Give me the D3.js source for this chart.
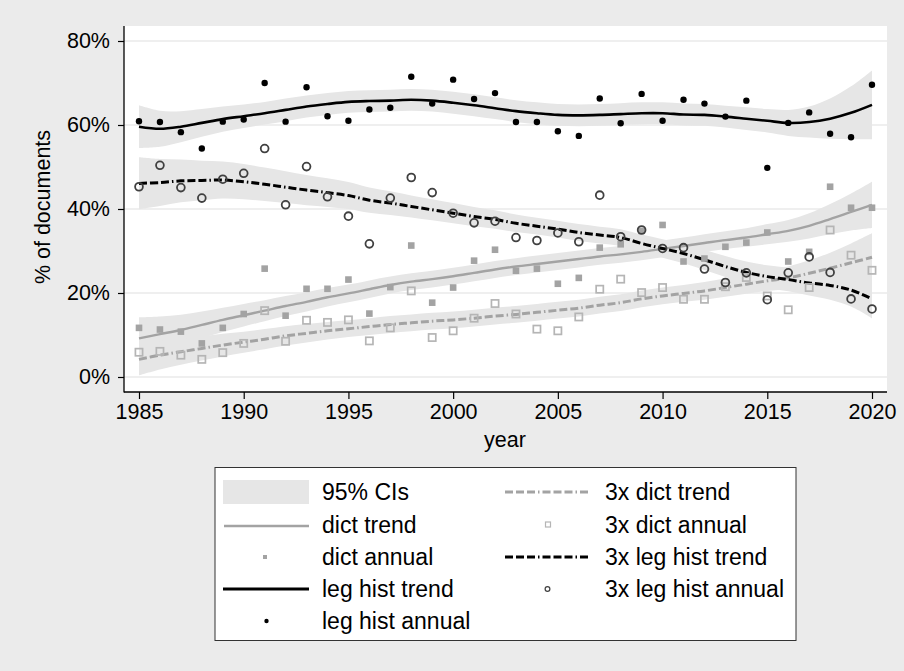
<!DOCTYPE html>
<html><head><meta charset="utf-8">
<script src="https://cdn.jsdelivr.net/npm/d3@7"></script>
<style>body{margin:0;background:#ebebeb}svg{display:block}text{font-family:"Liberation Sans",Arial,sans-serif;fill:#000}</style>
</head><body><svg id="c" width="904" height="671"></svg>
<script>
const years = [1985,1986,1987,1988,1989,1990,1991,1992,1993,1994,1995,1996,1997,1998,1999,2000,2001,2002,2003,2004,2005,2006,2007,2008,2009,2010,2011,2012,2013,2014,2015,2016,2017,2018,2019,2020];
const xTicks = [1985,1990,1995,2000,2005,2010,2015,2020];
const yTicks = [0,20,40,60,80];

const legHistAnnual = [60.9,60.7,58.3,54.4,60.8,61.3,70.0,60.8,69.0,62.1,61.0,63.7,64.1,71.5,65.1,70.8,66.2,67.6,60.7,60.7,58.5,57.4,66.3,60.4,67.4,61.0,66.0,65.1,62.0,65.8,49.8,60.5,63.0,57.9,57.1,69.6];
const legHistTrend  = [59.6,59.1,59.6,60.5,61.4,62.1,62.8,63.6,64.4,65.0,65.5,65.7,65.8,66.0,65.8,65.3,64.7,64.0,63.3,62.8,62.4,62.3,62.4,62.6,62.8,62.8,62.5,62.4,62.0,61.5,61.0,60.5,60.7,61.5,62.9,64.8];
const legHistCI     = [5.1,4.3,3.7,3.3,3.0,2.8,2.7,2.7,2.6,2.6,2.6,2.6,2.6,2.6,2.6,2.6,2.6,2.6,2.6,2.6,2.6,2.6,2.6,2.6,2.6,2.6,2.6,2.6,2.6,2.7,2.8,3.1,3.7,4.8,6.3,8.2];

const threeLegAnnual = [45.3,50.4,45.1,42.6,47.1,48.5,54.4,41.0,50.1,42.9,38.3,31.7,42.6,47.5,43.9,39.0,36.7,37.1,33.2,32.5,34.3,32.2,43.3,33.4,35.0,30.6,30.8,25.7,22.5,24.8,18.4,24.8,28.6,24.9,18.6,16.2];
const threeLegTrend  = [46.1,46.3,46.7,46.8,46.9,46.5,45.9,45.2,44.5,43.9,43.2,42.1,41.4,40.6,39.8,39.0,38.2,37.5,36.6,35.9,35.2,34.4,33.8,33.2,31.8,30.6,29.4,27.9,26.3,24.9,23.9,23.2,22.4,21.8,20.7,18.6];
const threeLegCI     = [6.2,5.6,5.1,4.7,4.4,4.2,4.0,3.8,3.6,3.4,3.2,3.0,2.8,2.6,2.5,2.4,2.3,2.2,2.1,2.0,2.0,2.0,2.0,2.0,2.1,2.2,2.3,2.4,2.5,2.6,2.7,2.8,3.0,3.4,3.9,4.6];

const dictAnnual = [11.7,11.3,10.8,8.0,11.7,15.0,25.8,14.6,21.0,21.0,23.2,15.1,21.4,31.3,17.7,21.3,27.7,30.3,25.3,25.8,22.2,23.6,30.8,31.6,34.8,36.2,27.5,28.2,31.0,32.0,34.4,27.5,29.8,45.3,40.3,40.3];
const dictTrend  = [9.2,10.2,11.2,12.4,13.6,14.7,15.8,16.9,17.9,19.0,19.9,20.9,21.9,22.7,23.3,24.0,24.8,25.6,26.3,26.9,27.5,28.1,28.7,29.2,29.8,30.5,31.2,31.9,32.6,33.2,34.0,34.8,36.0,37.6,39.3,41.0];
const dictCI     = [5.0,4.2,3.6,3.2,2.9,2.7,2.5,2.4,2.3,2.2,2.1,2.1,2.0,2.0,2.0,2.0,2.0,2.0,2.0,2.0,2.0,2.0,2.0,2.0,2.0,2.0,2.0,2.1,2.1,2.2,2.4,2.6,3.0,3.6,4.4,5.5];

const threeDictAnnual = [5.9,6.1,5.2,4.2,5.8,8.0,15.8,8.5,13.5,13.0,13.6,8.6,11.7,20.5,9.4,11.0,14.0,17.5,15.0,11.4,11.0,14.3,20.9,23.3,20.1,21.3,18.5,18.5,21.5,23.7,19.3,16.0,21.3,35.0,29.0,25.4];
const threeDictTrend  = [4.2,5.2,6.0,6.8,7.6,8.3,9.0,9.8,10.4,11.0,11.5,12.0,12.5,12.9,13.3,13.6,14.0,14.5,14.9,15.4,15.9,16.4,17.1,17.7,18.6,19.3,19.9,20.5,21.3,22.1,22.9,23.6,24.7,25.9,27.2,28.5];
const threeDictCI     = [3.8,3.4,3.1,2.9,2.7,2.5,2.4,2.3,2.2,2.1,2.0,2.0,2.0,2.0,2.0,2.0,2.0,2.0,2.0,2.0,2.0,2.0,2.0,2.0,2.0,2.0,2.0,2.1,2.2,2.3,2.4,2.7,3.1,3.7,4.6,5.7];

const legendLeft  = ["95% CIs","dict trend","dict annual","leg hist trend","leg hist annual"];
const legendRight = ["3x dict trend","3x dict annual","3x leg hist trend","3x leg hist annual"];

const W=904,H=671;
const svg=d3.select("#c");
const C={band:"#e6e6e6",grid:"#eaeaea",gray:"#a3a3a3",lgray:"#b5b5b5",dgray:"#404040"};
const dash="8,3,8,3,8,3,1.5,3";
svg.append("rect").attr("width",W).attr("height",H).attr("fill","#ebebeb");
const P={l:124,r:887,t:26,b:392};
svg.append("rect").attr("x",P.l).attr("y",P.t).attr("width",P.r-P.l).attr("height",P.b-P.t).attr("fill","#fff");

const x=d3.scaleLinear().domain([1985,2020]).range([139,872]);
const y=d3.scaleLinear().domain([0,80]).range([377,41]);

svg.append("g").selectAll("line").data(yTicks).join("line")
  .attr("x1",P.l).attr("x2",P.r).attr("y1",d=>y(d)).attr("y2",d=>y(d))
  .attr("stroke",C.grid).attr("stroke-width",1.5);

const curve=d3.curveCatmullRom.alpha(0.5);
function band(trend,ci){
  const a=d3.area().x((d,i)=>x(years[i])).y0((d,i)=>y(trend[i]-ci[i])).y1((d,i)=>y(trend[i]+ci[i])).curve(curve);
  svg.append("path").attr("d",a(trend)).attr("fill",C.band);
}
band(legHistTrend,legHistCI);
band(threeLegTrend,threeLegCI);
band(dictTrend,dictCI);
band(threeDictTrend,threeDictCI);

function line(vals,color,w,da){
  const l=d3.line().x((d,i)=>x(years[i])).y(d=>y(d)).curve(curve);
  const p=svg.append("path").attr("d",l(vals)).attr("fill","none").attr("stroke",color).attr("stroke-width",w);
  if(da)p.attr("stroke-dasharray",da);
}
line(dictTrend,C.gray,2.4);
line(threeDictTrend,C.gray,3,dash);
line(legHistTrend,"#000",2.6);
line(threeLegTrend,"#000",3,dash);

svg.append("g").selectAll("rect").data(dictAnnual).join("rect")
  .attr("x",(d,i)=>x(years[i])-3.3).attr("y",d=>y(d)-3.3).attr("width",6.6).attr("height",6.6).attr("fill",C.gray);
svg.append("g").selectAll("rect").data(threeDictAnnual).join("rect")
  .attr("x",(d,i)=>x(years[i])-3.6).attr("y",d=>y(d)-3.6).attr("width",7.2).attr("height",7.2)
  .attr("fill","none").attr("stroke",C.lgray).attr("stroke-width",1.7);
svg.append("g").selectAll("circle").data(threeLegAnnual).join("circle")
  .attr("cx",(d,i)=>x(years[i])).attr("cy",d=>y(d)).attr("r",3.9)
  .attr("fill","none").attr("stroke",C.dgray).attr("stroke-width",1.8);
svg.append("g").selectAll("circle").data(legHistAnnual).join("circle")
  .attr("cx",(d,i)=>x(years[i])).attr("cy",d=>y(d)).attr("r",3.2).attr("fill","#000");

const fs=21.5;
const ya=svg.append("g").attr("transform",`translate(${P.l},0)`)
  .call(d3.axisLeft(y).tickValues(yTicks).tickFormat(d=>d+"%").tickSize(6).tickPadding(8));
const xa=svg.append("g").attr("transform",`translate(0,${P.b})`)
  .call(d3.axisBottom(x).tickValues(xTicks).tickFormat(d3.format("d")).tickSize(7).tickPadding(5));
[ya,xa].forEach(g=>{g.select(".domain").remove();g.selectAll("line").attr("stroke","#000").attr("stroke-width",1.2);
  g.selectAll("text").attr("font-size",fs).attr("font-family","Liberation Sans, Arial, sans-serif").attr("fill","#000");});
svg.append("line").attr("x1",P.l).attr("x2",P.l).attr("y1",P.t).attr("y2",P.b+0.5).attr("stroke","#000").attr("stroke-width",1.3);
svg.append("line").attr("x1",P.l).attr("x2",P.r).attr("y1",P.b).attr("y2",P.b).attr("stroke","#000").attr("stroke-width",1.3);

svg.append("text").attr("x",505).attr("y",447).attr("text-anchor","middle").attr("font-size",fs).text("year");
svg.append("text").attr("transform","translate(50,207) rotate(-90)").attr("text-anchor","middle").attr("font-size",fs).text("% of documents");

const L=svg.append("g");
L.append("rect").attr("x",215).attr("y",467.5).attr("width",581).attr("height",173).attr("fill","#fff").attr("stroke","#333").attr("stroke-width",1);
const rows=[492,525,557,589,621];
const lfs=23;
legendLeft.forEach((t,i)=>L.append("text").attr("x",322).attr("y",rows[i]).attr("dy","0.36em").attr("font-size",lfs).text(t));
legendRight.forEach((t,i)=>L.append("text").attr("x",605).attr("y",rows[i]).attr("dy","0.36em").attr("font-size",lfs).text(t));
L.append("rect").attr("x",223).attr("y",rows[0]-12).attr("width",86).attr("height",24).attr("fill",C.band);
L.append("line").attr("x1",224).attr("x2",309).attr("y1",rows[1]+1).attr("y2",rows[1]+1).attr("stroke",C.gray).attr("stroke-width",2.6);
L.append("rect").attr("x",263).attr("y",rows[2]-2).attr("width",4).attr("height",4).attr("fill",C.gray);
L.append("line").attr("x1",223).attr("x2",309).attr("y1",rows[3]).attr("y2",rows[3]).attr("stroke","#000").attr("stroke-width",3);
L.append("circle").attr("cx",266.5).attr("cy",rows[4]).attr("r",2.2).attr("fill","#000");
L.append("line").attr("x1",505).attr("x2",590).attr("y1",rows[0]).attr("y2",rows[0]).attr("stroke",C.gray).attr("stroke-width",3).attr("stroke-dasharray",dash);
L.append("rect").attr("x",545.5).attr("y",rows[1]-3).attr("width",5).attr("height",5).attr("fill","none").attr("stroke",C.lgray).attr("stroke-width",1.2);
L.append("line").attr("x1",505).attr("x2",590).attr("y1",rows[2]).attr("y2",rows[2]).attr("stroke","#000").attr("stroke-width",3).attr("stroke-dasharray",dash);
L.append("circle").attr("cx",547.5).attr("cy",rows[3]).attr("r",2.4).attr("fill","none").attr("stroke",C.dgray).attr("stroke-width",1.2);
</script></body></html>
